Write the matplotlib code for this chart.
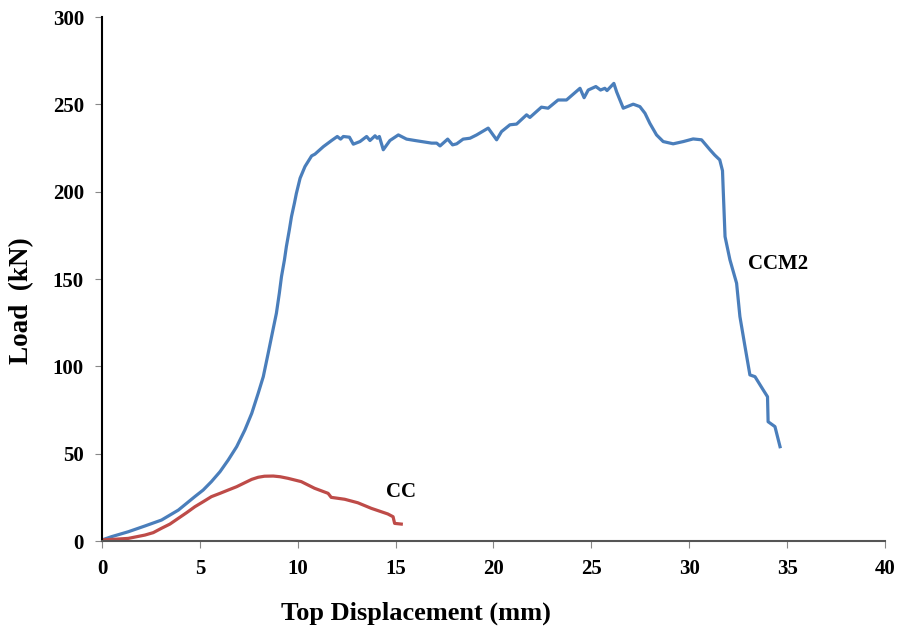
import matplotlib.pyplot as plt

plt.rcParams['font.family'] = ['Liberation Serif', 'DejaVu Serif']
plt.rcParams['font.weight'] = 'bold'

# CCM2 specimen: top displacement (mm) vs load (kN)
ccm2_disp = [0.0, 0.49, 1.34, 2.19, 3.04, 3.9, 4.74, 5.17, 5.59, 6.03, 6.45, 6.88,
             7.3, 7.65, 7.98, 8.24, 8.49, 8.7, 8.91, 9.06, 9.17, 9.32, 9.42, 9.57,
             9.68, 9.83, 9.93, 10.12, 10.37, 10.71, 10.88, 11.31, 11.73, 12.02, 12.19,
             12.33, 12.64, 12.84, 13.18, 13.52, 13.69, 13.95, 14.06, 14.17, 14.37,
             14.71, 15.14, 15.56, 15.99, 16.33, 16.84, 17.1, 17.27, 17.66, 17.91,
             18.12, 18.45, 18.8, 19.14, 19.73, 20.16, 20.41, 20.84, 21.18, 21.69,
             21.86, 22.45, 22.79, 23.3, 23.73, 24.42, 24.63, 24.84, 25.23, 25.47,
             25.69, 25.8, 26.15, 26.29, 26.63, 27.14, 27.48, 27.74, 27.99, 28.33,
             28.67, 29.18, 29.7, 30.2, 30.63, 31.06, 31.3, 31.56, 31.7, 31.73, 31.83,
             32.08, 32.42, 32.59, 32.85, 33.1, 33.36, 33.78, 34.0, 34.03, 34.38, 34.64]
ccm2_load = [0.6, 2.5, 5.3, 8.6, 12.0, 17.7, 25.4, 29.2, 34.0, 39.7, 46.4, 54.0,
             63.6, 73.1, 84.6, 94.1, 107.5, 119.0, 130.4, 141.9, 151.4, 160.9, 168.6,
             178.1, 185.7, 193.4, 199.0, 207.7, 214.4, 220.5, 221.5, 225.8, 229.3,
             231.6, 230.1, 231.6, 231.2, 227.2, 228.7, 231.6, 229.3, 232.0, 230.6,
             231.6, 224.0, 229.3, 232.5, 230.1, 229.3, 228.7, 227.8, 227.8, 226.2,
             230.1, 226.8, 227.4, 230.1, 230.6, 232.5, 236.4, 229.7, 234.4, 238.3,
             238.7, 244.0, 242.5, 248.4, 247.8, 252.5, 252.5, 259.2, 253.8, 258.2,
             260.2, 258.2, 259.2, 257.9, 262.0, 257.2, 247.8, 250.1, 248.7, 244.9,
             239.1, 232.5, 228.7, 227.4, 228.7, 230.2, 229.7, 224.0, 221.0, 218.2,
             212.0, 203.0, 174.3, 161.0, 147.6, 128.5, 111.3, 95.1, 94.1, 86.5, 82.6,
             68.3, 65.5, 54.0]

# CC specimen
cc_disp = [0.0, 0.49, 1.34, 2.19, 2.62, 3.04, 3.47, 3.9, 4.32, 4.74, 5.17, 5.59,
           6.03, 6.45, 6.88, 7.3, 7.65, 7.98, 8.3, 8.75, 9.1, 9.5, 10.18, 10.86,
           11.55, 11.71, 12.4, 13.07, 13.76, 14.6, 14.87, 14.95, 15.29]
cc_load = [0.6, 0.9, 1.5, 3.4, 4.8, 7.3, 9.7, 13.0, 16.2, 19.6, 22.5, 25.4,
           27.3, 29.2, 31.1, 33.4, 35.3, 36.5, 37.1, 37.2, 36.8, 35.9, 34.0, 30.2,
           27.3, 25.0, 23.9, 21.9, 18.7, 15.5, 13.9, 10.1, 9.7]

xticks = [0, 5, 10, 15, 20, 25, 30, 35, 40]
yticks = [0, 50, 100, 150, 200, 250, 300]

fig = plt.figure(figsize=(9.01, 6.35), dpi=100)
ax = fig.add_axes([0.1132, 0.148, 0.869, 0.8252])

ax.plot(ccm2_disp, ccm2_load, color='#4A7EBB', linewidth=2.3)     # CCM2 curve
ax.plot(cc_disp, cc_load, color='#BE4B48', linewidth=2.3)         # CC curve

ax.text(33.0, 158.6, 'CCM2', fontsize=15, fontweight='bold', va='center')
ax.text(14.5, 28.0, 'CC', fontsize=15, fontweight='bold', va='center')

ax.set_xlim(0, 40)
ax.set_ylim(0, 300)
ax.set_xticks(xticks)
ax.set_yticks(yticks)
ax.tick_params(direction='out', length=5, color='#888888', labelsize=15, pad=8)
for lab in ax.get_xticklabels() + ax.get_yticklabels():
    lab.set_fontweight('bold')

ax.spines['top'].set_visible(False)
ax.spines['right'].set_visible(False)
ax.spines['left'].set_linewidth(1.5)
ax.spines['bottom'].set_linewidth(1.5)
ax.spines['bottom'].set_color('#555555')

ax.set_xlabel('Top Displacement (mm)', fontsize=19, fontweight='bold')
ax.set_ylabel('Load  (kN)', fontsize=19.5, fontweight='bold')
ax.xaxis.set_label_coords(0.401, -0.116)
ax.yaxis.set_label_coords(-0.087, 0.458)

plt.savefig('out.png', dpi=100)
